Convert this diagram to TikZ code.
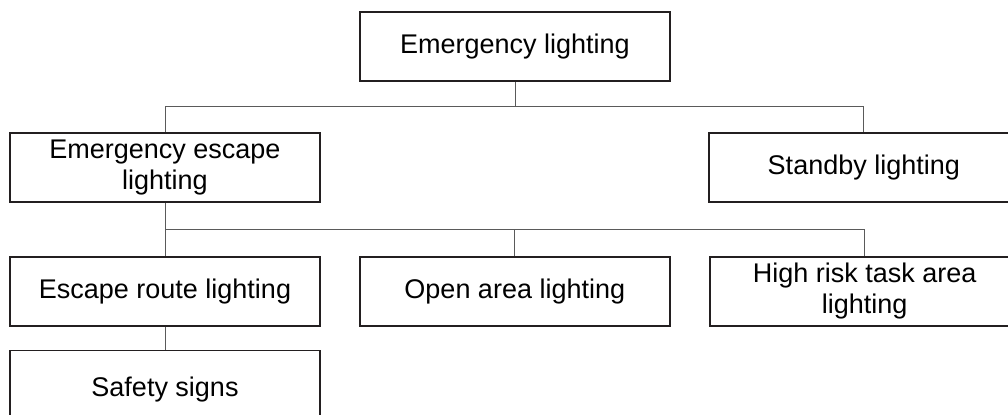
\documentclass[tikz,border=0pt]{standalone}
\usepackage{fontspec}
\setmainfont{Liberation Sans}
\usetikzlibrary{positioning}
\definecolor{boxline}{HTML}{231F20}
\definecolor{linkline}{HTML}{5A5A5A}
\begin{document}
\begin{tikzpicture}[x=0.5pt, y=-0.5pt, node distance=19pt, font=\fontsize{13.5}{15.5}\selectfont, box/.style={rectangle, draw=boxline, line width=0.9pt, align=center, minimum width=155pt, minimum height=34.5pt, inner sep=2pt}, link/.style={draw=linkline, line width=0.5pt}]
    \clip (0,0) rectangle (1008,415);
    \node[box](top) at (515,46.5) {Emergency lighting};
    \node[box](esc) at (165,167.5) {Emergency escape\\lighting};
    \node[box](stby)[right=193.5pt of esc]{Standby lighting};
    \node[box](route)[below=26.5pt of esc]{Escape route lighting};
    \node[box](open)[right=of route]{Open area lighting};
    \node[box](risk)[right=of open]{High risk task area\\lighting};
    \node[box, minimum height=39pt](safe)[below=11.5pt of route]{Safety signs};
    \coordinate (j1) at (515,107);
    \coordinate (j2) at (165,230);

\foreach \s/\t in {top.south/j1, esc.south/j2, route.south/safe.north}{
    \draw[link] (\s) -- (\t);}
\foreach \s/\t in {j1/esc, j1/stby, j2/route, j2/open, j2/risk}{
    \draw[link] (\s) -| (\t.north);}
\end{tikzpicture}
\end{document}
